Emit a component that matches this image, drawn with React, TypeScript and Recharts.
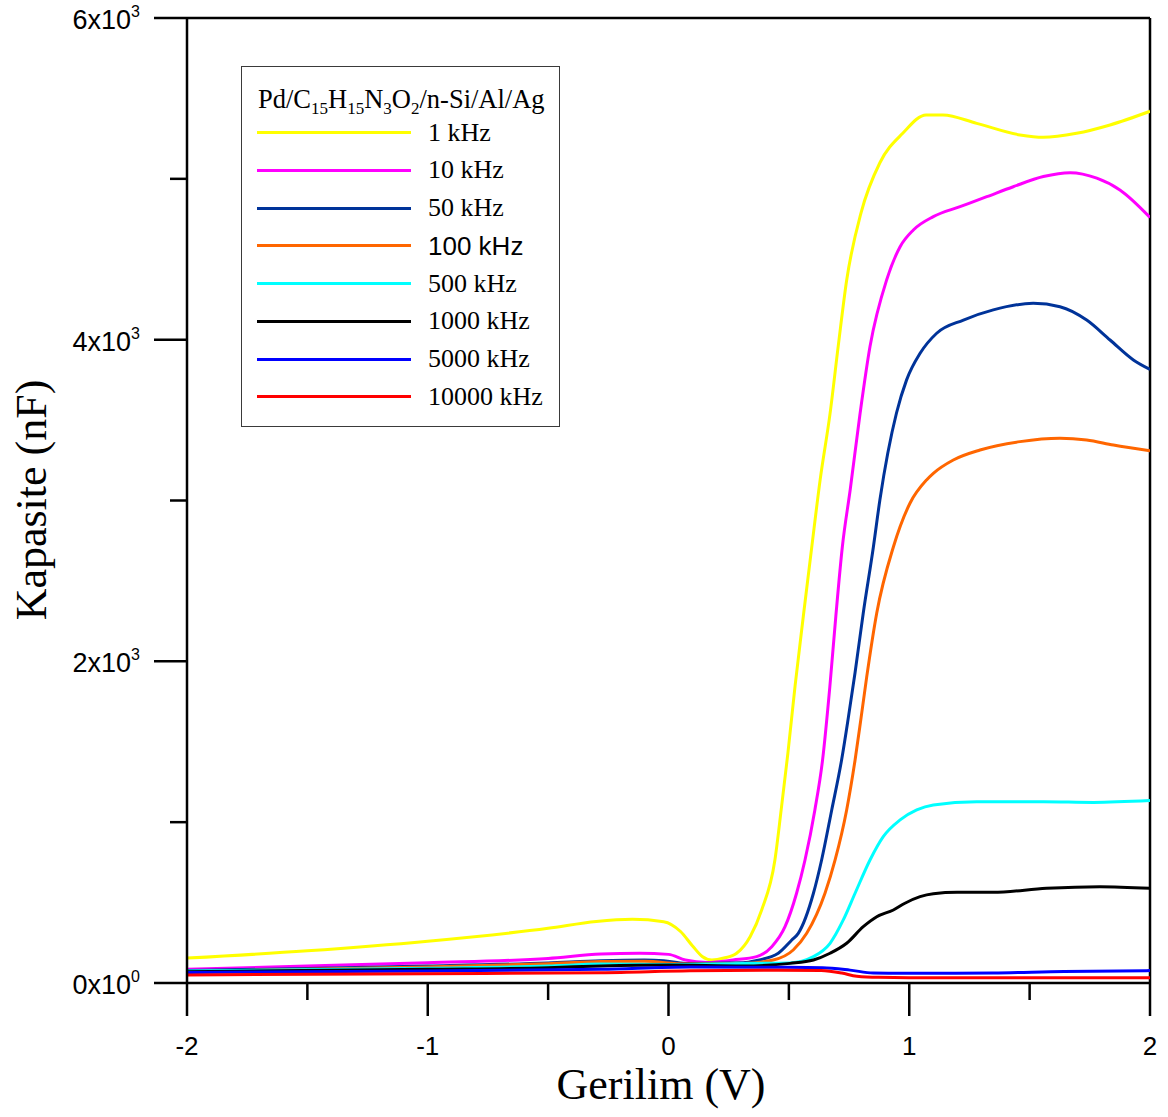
import React from "react";
import { LineChart, Line, XAxis, YAxis, ReferenceLine } from "recharts";

// voltage (V) / capacitance (nF), one pair of arrays per frequency
const v1k = [-2, -1.5, -1, -0.5, -0.3, -0.15, -0.02, 0.05, 0.1, 0.14, 0.18, 0.23, 0.283, 0.339, 0.387, 0.442, 0.468, 0.496, 0.526, 0.56, 0.595, 0.63, 0.671, 0.705, 0.74, 0.8, 0.878, 0.974, 1.07, 1.14, 1.28, 1.46, 1.556, 1.695, 1.834, 2];
const c1k = [155, 200, 260, 340, 383, 396, 381, 320, 230, 165, 143, 155, 185, 288, 454, 765, 1076, 1430, 1850, 2280, 2710, 3130, 3540, 3960, 4370, 4790, 5100, 5285, 5397, 5397, 5345, 5273, 5258, 5283, 5335, 5420];

const v10k = [-2, -1.5, -1, -0.5, -0.28, -0.12, 0, 0.07, 0.16, 0.268, 0.366, 0.429, 0.484, 0.532, 0.567, 0.608, 0.64, 0.67, 0.695, 0.722, 0.755, 0.796, 0.837, 0.906, 0.962, 1.017, 1.1, 1.211, 1.322, 1.432, 1.557, 1.668, 1.779, 1.875, 2];
const c10k = [85, 106, 126, 153, 180, 185, 178, 143, 128, 143, 164, 226, 350, 558, 765, 1076, 1387, 1840, 2280, 2711, 3070, 3544, 3957, 4371, 4578, 4682, 4765, 4827, 4889, 4951, 5014, 5038, 5004, 4931, 4760];

const v50k = [-2, -1.5, -1, -0.5, -0.28, -0.1, -0.02, 0.07, 0.31, 0.366, 0.456, 0.512, 0.539, 0.602, 0.636, 0.678, 0.719, 0.747, 0.775, 0.809, 0.851, 0.878, 0.947, 0.989, 1.045, 1.114, 1.225, 1.349, 1.515, 1.626, 1.737, 1.834, 1.931, 2];
const c50k = [78, 90, 105, 125, 139, 143, 139, 122, 126, 140, 185, 267, 309, 558, 765, 1076, 1387, 1650, 1930, 2301, 2711, 3003, 3544, 3750, 3915, 4040, 4122, 4185, 4226, 4205, 4122, 3998, 3874, 3815];

const v100k = [-2, -1.5, -1, -0.5, -0.28, -0.1, 0.07, 0.31, 0.435, 0.518, 0.574, 0.65, 0.692, 0.74, 0.775, 0.8, 0.823, 0.865, 0.934, 1.003, 1.072, 1.1, 1.183, 1.294, 1.46, 1.626, 1.737, 1.848, 2];
const c100k = [72, 85, 100, 120, 133, 135, 118, 122, 143, 205, 309, 558, 765, 1076, 1387, 1650, 1900, 2301, 2711, 2983, 3128, 3169, 3252, 3314, 3366, 3387, 3376, 3345, 3310];

const v500k = [-2, -1, -0.5, -0.28, 0, 0.31, 0.505, 0.602, 0.671, 0.726, 0.775, 0.837, 0.892, 0.962, 1.031, 1.1, 1.28, 1.557, 1.765, 2];
const c500k = [75, 92, 105, 118, 115, 122, 125, 164, 247, 392, 558, 765, 910, 1014, 1076, 1107, 1127, 1127, 1123, 1134];

const v1000k = [-2, -1, -0.5, -0.28, 0, 0.31, 0.505, 0.602, 0.671, 0.74, 0.809, 0.865, 0.934, 0.982, 1.045, 1.1, 1.199, 1.348, 1.57, 1.792, 2];
const c1000k = [70, 85, 95, 106, 112, 106, 122, 143, 185, 247, 350, 412, 454, 496, 537, 555, 564, 564, 589, 599, 589];

const v5000k = [-2, -1, -0.28, 0.089, 0.457, 0.64, 0.754, 0.85, 0.977, 1.125, 1.348, 1.643, 2];
const c5000k = [65, 75, 85, 100, 98, 95, 80, 62, 60, 60, 62, 72, 77];

const v10000k = [-2, -1, -0.28, 0.089, 0.457, 0.634, 0.72, 0.782, 0.872, 1.05, 1.5, 2];
const c10000k = [50, 58, 64, 76, 80, 78, 62, 42, 35, 33, 33, 33];

const xTicks = [-2, -1.5, -1, -0.5, 0, 0.5, 1, 1.5, 2];
const yTicks = [0, 1000, 2000, 3000, 4000, 5000, 6000];

const series = [
  { name: "1 kHz", color: "#FFFF00", v: v1k, c: c1k },
  { name: "10 kHz", color: "#FF00FF", v: v10k, c: c10k },
  { name: "50 kHz", color: "#003399", v: v50k, c: c50k },
  { name: "100 kHz", color: "#FF6600", v: v100k, c: c100k, sans: true },
  { name: "500 kHz", color: "#00FFFF", v: v500k, c: c500k },
  { name: "1000 kHz", color: "#000000", v: v1000k, c: c1000k },
  { name: "5000 kHz", color: "#0000FF", v: v5000k, c: c5000k },
  { name: "10000 kHz", color: "#FF0000", v: v10000k, c: c10000k },
];

const SANS = "'Liberation Sans', Arial, sans-serif";
const SERIF = "'Liberation Serif', 'Times New Roman', serif";

const renderXTick = (props: any) => {
  const { x, payload } = props;
  const major = Number.isInteger(payload.value);
  return (
    <g>
      <line x1={x} x2={x} y1={983} y2={983 + (major ? 33 : 17)} stroke="#000" strokeWidth={2.5} />
      {major && (
        <text x={x} y={983 + 72} textAnchor="middle" fontSize={26} fontFamily={SANS} fill="#000">
          {payload.value}
        </text>
      )}
    </g>
  );
};

const renderYTick = (props: any) => {
  const { y, payload } = props;
  const major = payload.value % 2000 === 0;
  const mant = payload.value / 1000;
  const x = 187;
  return (
    <g>
      <line x1={x - (major ? 33 : 17)} x2={x} y1={y} y2={y} stroke="#000" strokeWidth={2.5} />
      {major && (
        <text x={x - 47} y={y + 11} textAnchor="end" fontSize={27} fontFamily={SANS} fill="#000">
          <tspan>{mant}x10</tspan>
          <tspan dy={-12} fontSize={16}>{payload.value === 0 ? 0 : 3}</tspan>
        </text>
      )}
    </g>
  );
};

export default function App() {
  return (
    <div style={{ position: "absolute", left: 0, top: 0, width: 1168, height: 1117, background: "#fff" }}>
      <LineChart width={1168} height={1117} margin={{ top: 18, right: 18, left: 0, bottom: 0 }}>
        <XAxis
          type="number"
          dataKey="v"
          domain={[-2, 2]}
          ticks={xTicks}
          interval={0}
          allowDataOverflow
          height={134}
          tickSize={0}
          tickMargin={0}
          tickLine={false}
          tick={renderXTick}
          axisLine={{ stroke: "#000", strokeWidth: 2.5 }}
        />
        <YAxis
          type="number"
          domain={[0, 6000]}
          ticks={yTicks}
          interval={0}
          allowDataOverflow
          width={187}
          tickSize={0}
          tickMargin={0}
          tickLine={false}
          tick={renderYTick}
          axisLine={{ stroke: "#000", strokeWidth: 2.5 }}
        />
        <ReferenceLine y={6000} stroke="#000" strokeWidth={2.5} />
        <ReferenceLine x={2} stroke="#000" strokeWidth={2.5} />
        {series.map((s) => (
          <Line
            key={s.name}
            data={s.v.map((v, i) => ({ v, c: s.c[i] }))}
            dataKey="c"
            type="monotone"
            stroke={s.color}
            strokeWidth={3}
            dot={false}
            isAnimationActive={false}
          />
        ))}
      </LineChart>

      <div
        style={{
          position: "absolute", left: 32 - 200, top: 500 - 25, width: 400, height: 50,
          lineHeight: "50px", textAlign: "center", fontFamily: SERIF, fontSize: 44,
          transform: "rotate(-90deg)", whiteSpace: "nowrap",
        }}
      >
        Kapasite (nF)
      </div>
      <div
        style={{
          position: "absolute", left: 461, top: 1060, width: 400, height: 50,
          lineHeight: "50px", textAlign: "center", fontFamily: SERIF, fontSize: 44, whiteSpace: "nowrap",
        }}
      >
        Gerilim (V)
      </div>

      <div
        style={{
          position: "absolute", left: 241, top: 66, width: 319, height: 361, boxSizing: "border-box",
          border: "1px solid #3a3a3a", background: "#fff",
        }}
      >
        <div style={{ position: "absolute", left: 16, top: 19, lineHeight: "26px", fontFamily: SERIF, fontSize: 26.5, whiteSpace: "nowrap" }}>
          Pd/C<sub style={{ fontSize: 17 }}>15</sub>H<sub style={{ fontSize: 17 }}>15</sub>N<sub style={{ fontSize: 17 }}>3</sub>O<sub style={{ fontSize: 17 }}>2</sub>/n-Si/Al/Ag
        </div>
        {series.map((s, i) => {
          const cy = 65.5 + i * 37.76;
          return (
            <div key={s.name}>
              <div style={{ position: "absolute", left: 15, top: cy - 1.5, width: 154, height: 3, background: s.color }} />
              <div
                style={{
                  position: "absolute", left: 186, top: cy - 15, height: 30, lineHeight: "30px",
                  fontFamily: s.sans ? SANS : SERIF, fontSize: 26, whiteSpace: "nowrap",
                }}
              >
                {s.name}
              </div>
            </div>
          );
        })}
      </div>
    </div>
  );
}
